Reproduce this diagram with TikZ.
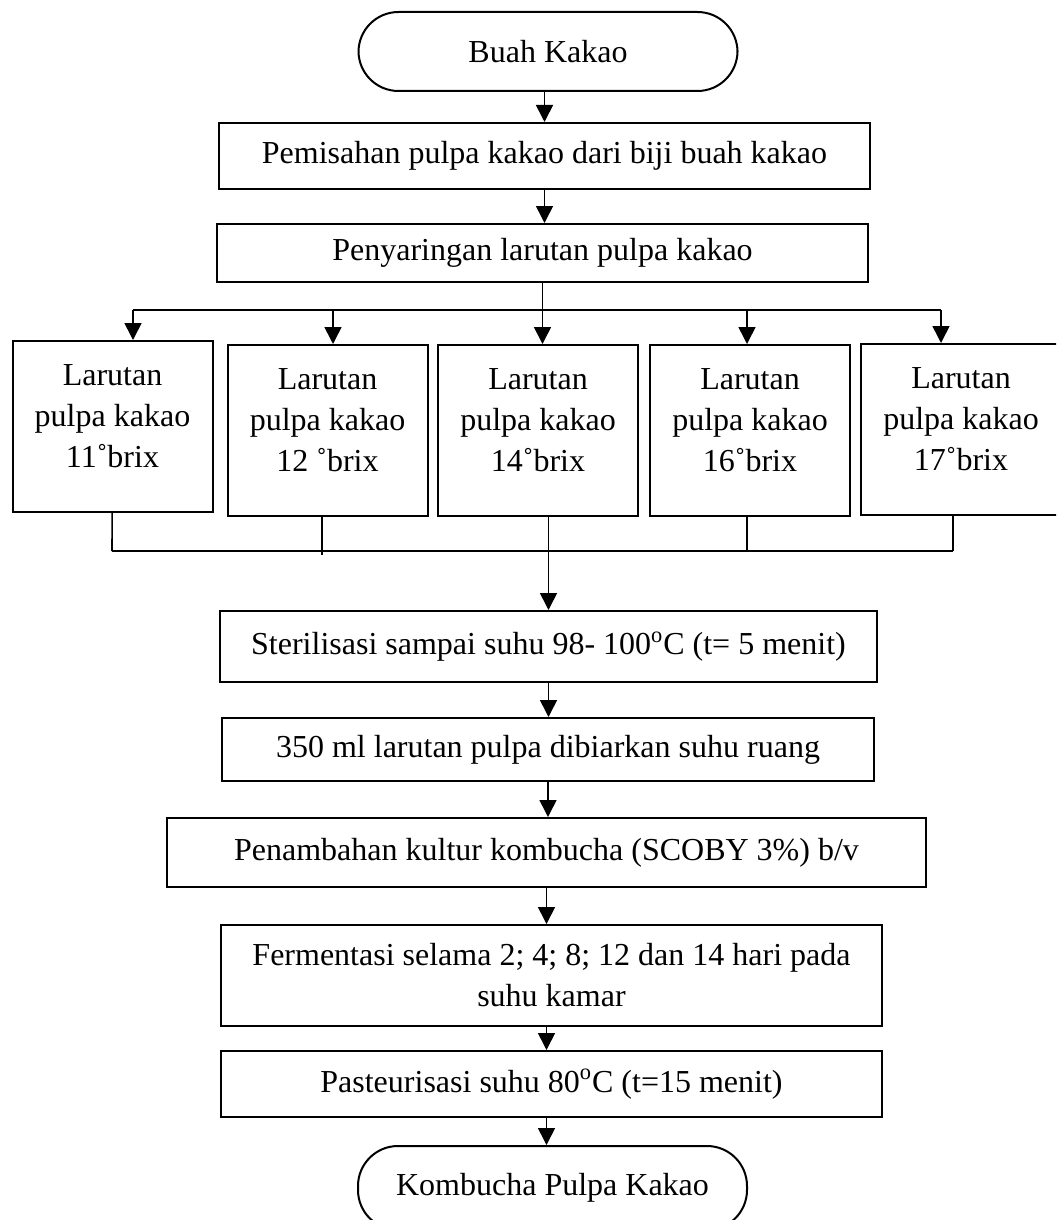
\documentclass[tikz,border=0pt]{standalone}
\usepackage{fontspec}
\setmainfont{Liberation Serif}
\usetikzlibrary{arrows.meta}
\tikzstyle{terminator} = [rectangle, draw, line width=1pt, rounded corners=20pt, text centered]
\tikzstyle{process} = [rectangle, draw, line width=1pt, text centered]
\tikzstyle{sample} = [rectangle, draw, line width=1pt, align=center, minimum width=100pt, minimum height=85.5pt]
\tikzstyle{flow} = [line width=0.8pt, -{Triangle[length=8.5pt,width=8.5pt]}]
\tikzstyle{link} = [line width=0.8pt]

\begin{document}
\begin{tikzpicture}[x=0.5pt, y=-0.5pt, font=\fontsize{16}{20.5}\selectfont]
        \useasboundingbox (0, 0) rectangle (1056, 1220);
        \clip (0, 0) rectangle (1056, 1220);

        \node[terminator, minimum width=189.5pt, minimum height=39.5pt] at (548, 51.5) (BuahKakao) {Buah Kakao};
        \node[process, minimum width=325.5pt, minimum height=33pt] at (544.5, 156) (Pemisahan) {Pemisahan pulpa kakao dari biji buah kakao};
        \node[process, minimum width=325.5pt, minimum height=29pt] at (542.5, 253) (Penyaringan) {Penyaringan larutan pulpa kakao};

        \node[sample] at (112.5, 426.5) (Brix11) {Larutan\\pulpa kakao\\11˚brix\\[-10pt]\mbox{}};
        \node[sample] at (327.5, 430.5) (Brix12) {Larutan\\pulpa kakao\\12 ˚brix\\[-10pt]\mbox{}};
        \node[sample] at (538, 430.5) (Brix14) {Larutan\\pulpa kakao\\14˚brix\\[-10pt]\mbox{}};
        \node[sample] at (750, 430.5) (Brix16) {Larutan\\pulpa kakao\\16˚brix\\[-10pt]\mbox{}};
        \node[sample] at (961, 429.5) (Brix17) {Larutan\\pulpa kakao\\17˚brix\\[-10pt]\mbox{}};

        \node[process, minimum width=328.5pt, minimum height=35.5pt] at (548.5, 646.5) (Sterilisasi) {Sterilisasi sampai suhu 98- 100\textsuperscript{o}C (t= 5 menit)};
        \node[process, minimum width=326pt, minimum height=31.5pt] at (548, 749.5) (Dibiarkan) {350 ml larutan pulpa dibiarkan suhu ruang};
        \node[process, minimum width=379.5pt, minimum height=34.5pt] at (546.5, 852.5) (Kultur) {Penambahan kultur kombucha (SCOBY 3\%) b/v};
        \node[process, minimum width=330.5pt, minimum height=50.5pt, align=center] at (551.5, 975.5) (Fermentasi) {Fermentasi selama 2; 4; 8; 12 dan 14 hari pada\\suhu kamar};
        \node[process, minimum width=330.5pt, minimum height=33pt] at (551.5, 1084) (Pasteurisasi) {Pasteurisasi suhu 80\textsuperscript{o}C (t=15 menit)};
        \node[terminator, minimum width=194.5pt, minimum height=42pt] at (552.5, 1188) (Kombucha) {Kombucha Pulpa Kakao};

        \coordinate (tap1) at (133, 310);
        \coordinate (tap2) at (333, 310);
        \coordinate (tap4) at (747, 310);
        \coordinate (tap5) at (941, 310);
        \coordinate (join1) at (112, 551);
        \coordinate (join2) at (322, 555);
        \coordinate (join4) at (747, 551);
        \coordinate (join5) at (953, 551);

        \draw[flow] (Pemisahan |- BuahKakao.south) -- (Pemisahan);
        \draw[flow] (Pemisahan) -- (Pemisahan |- Penyaringan.north);
        \draw[flow] (Penyaringan) -- (Penyaringan |- Brix14.north);

        \draw[link] (tap1) -- (tap5);
        \draw[flow] (tap1) -- (tap1 |- Brix11.north);
        \draw[flow] (tap2) -- (tap2 |- Brix12.north);
        \draw[flow] (tap4) -- (tap4 |- Brix16.north);
        \draw[flow] (tap5) -- (tap5 |- Brix17.north);

        \draw[link] (join1) -- (join5);
        \draw[link] (Brix11) -- (join1);
        \draw[link] (join2 |- Brix12.south) -- (join2);
        \draw[link] (join4 |- Brix16.south) -- (join4);
        \draw[link] (join5 |- Brix17.south) -- (join5);
        \draw[flow] (Sterilisasi |- Brix14.south) -- (Sterilisasi);

        \draw[flow] (Sterilisasi) -- (Sterilisasi |- Dibiarkan.north);
        \draw[flow] (Dibiarkan) -- (Dibiarkan |- Kultur.north);
        \draw[flow] (Kultur) -- (Kultur |- Fermentasi.north);
        \draw[flow] (Kultur |- Fermentasi.south) -- (Kultur |- Pasteurisasi.north);
        \draw[flow] (Kultur |- Pasteurisasi.south) -- (Kultur |- Kombucha.north);

    \end{tikzpicture}
\end{document}
